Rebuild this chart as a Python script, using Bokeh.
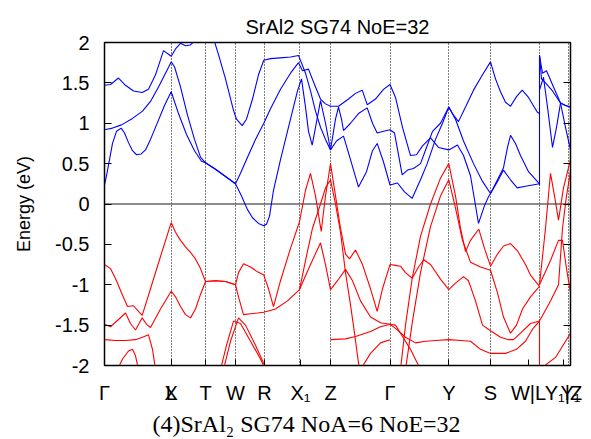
from bokeh.plotting import figure
from bokeh.models import Range1d, FixedTicker, LinearAxis, Span, NumeralTickFormatter, Title
from bokeh.embed import file_html
from bokeh.resources import INLINE

# ---- high-symmetry path (k in arbitrary path-length units) ----
grid_k = [170.7, 205, 235, 264, 299, 330, 389.5, 448.3, 490, 539, 568]
label_k = [104, 170.7, 170.71, 205, 235, 264, 300, 330, 389.5, 448.3, 490, 528, 563, 570]
label_text = ["Γ", "X", "L", "T", "W", "R", "X₁", "Z", "Γ", "Y", "S", "W|L", "Y₁|Z", "Y₁"]
energy_ticks = [-2, -1.5, -1, -0.5, 0, 0.5, 1, 1.5, 2]

# ---- conduction bands (blue) ----
cb1_k = [104, 106, 109, 112, 116, 120.7, 124, 128, 132, 136, 140.7, 145, 150, 156, 164, 170.7, 178, 186, 194, 201, 205,
         215, 225, 235, 241, 247, 252, 258, 263.3, 266, 269, 273, 280, 290, 297, 301, 305, 308, 311.7, 315, 320, 325, 330,
         336, 343, 350, 358, 366, 372, 376.7, 383, 389.5, 397, 404, 411.7, 420, 426.7, 435, 442, 448.3,
         455, 463, 473, 482, 490, 497, 503, 510, 516.7, 525, 539]
cb1_e = [0.235, 0.35, 0.55, 0.75, 0.9, 0.94, 0.88, 0.76, 0.66, 0.61, 0.62, 0.67, 0.8, 0.98, 1.22, 1.39, 1.12, 0.86, 0.66, 0.53, 0.51,
         0.43, 0.34, 0.25, 0.1, -0.07, -0.17, -0.24, -0.27, -0.25, -0.15, 0.17, 0.55, 1.05, 1.4, 1.55, 1.2, 0.9, 0.73, 0.95, 1.28, 1.0, 0.67,
         0.78, 0.84, 0.55, 0.21, 0.4, 0.66, 0.75, 0.52, 0.235, 0.26, 0.15, 0.07, 0.3, 0.5, 0.8, 1.0, 1.2,
         1.05, 0.78, 0.5, 0.28, 0.13, 0.28, 0.42, 0.3, 0.2, 0.22, 0.25]

cb2_k = [104, 112, 121, 132, 142, 150, 158, 165, 170.7, 174, 180, 187, 194, 200, 205, 215, 225, 235,
         240, 247, 255, 263.3, 270, 280, 290, 298, 302, 308, 314, 320, 325, 330,
         338, 348, 355, 361.7, 366.7, 375, 383, 389.5, 395, 402, 410, 416, 422, 430, 438, 448.3,
         457, 463, 470, 478, 484, 488, 490, 497, 503, 507, 510, 515, 520, 528, 539]
cb2_e = [0.92, 0.94, 0.98, 1.06, 1.15, 1.27, 1.45, 1.62, 1.76, 1.7, 1.45, 1.1, 0.8, 0.58, 0.51, 0.43, 0.34, 0.25,
         0.38, 0.58, 0.8, 1.0, 1.18, 1.42, 1.62, 1.75, 1.65, 1.67, 1.48, 1.3, 1.24, 1.21,
         1.21, 1.3, 1.37, 1.41, 1.23, 1.3, 1.42, 1.48, 1.32, 0.95, 0.6, 0.61, 0.72, 0.82, 0.7, 0.67,
         0.73, 0.6, 0.35, -0.24, -0.02, 0.09, 0.13, 0.3, 0.45, 0.7, 0.85, 0.75, 0.6, 0.4, 0.25]

cb3_k = [104, 110, 118, 125, 133, 141.7, 148, 155, 163, 170.7, 175, 180, 185, 190, 196, 205, 213, 218, 225,
         233, 236, 241.7, 246, 252, 258, 263.3, 270, 280, 290, 298, 305, 310, 315, 320, 325, 330,
         335, 338, 341, 343, 350, 358, 366.7, 372, 376.7, 383, 389.5, 394, 401.7, 407, 413, 420, 426, 432,
         440, 448.3, 453, 458, 465, 473, 482, 490, 495, 500, 505, 510, 516, 521.7, 528, 536.7, 539]
cb3_e = [1.47, 1.48, 1.56, 1.47, 1.4, 1.38, 1.42, 1.6, 1.9, 1.83, 1.92, 1.99, 1.96, 1.97, 2.05, 2.15, 2.05, 1.85, 1.55,
         1.16, 1.05, 0.97, 1.05, 1.3, 1.6, 1.78, 1.8, 1.81, 1.82, 1.84, 1.62, 1.4, 1.15, 0.95, 0.8, 0.67,
         1.05, 1.2, 1.05, 0.91, 1.0, 1.12, 1.19, 1.0, 0.88, 0.9, 0.92, 0.88, 0.36, 0.42, 0.44, 0.5, 0.7, 0.9,
         1.0, 1.2, 1.1, 1.02, 1.2, 1.41, 1.6, 1.76, 1.55, 1.39, 1.26, 1.21, 1.33, 1.41, 1.32, 1.14, 1.12]

cb4_k = [539, 539]
cb4_e = [0.23, 1.84]
cb5_k = [539, 542, 546, 553, 560, 565, 570]
cb5_e = [1.84, 1.62, 1.65, 1.45, 1.25, 1.22, 1.2]
cb6_k = [539, 541, 545, 552, 560, 565, 570]
cb6_e = [1.84, 1.55, 1.5, 1.4, 1.25, 0.95, 0.67]
cb7_k = [539, 543, 547, 552, 556, 560, 565, 570]
cb7_e = [1.41, 1.57, 1.2, 0.7, 0.95, 1.25, 1.22, 1.2]

# ---- valence bands (red) ----
vb1_k = [104, 110, 116, 122, 127, 133, 138, 141.7, 150, 160, 170.7, 175, 180, 185, 190, 195, 200, 205, 215, 225, 235,
         238, 243, 250, 257, 263.3, 268, 273, 280, 290, 299, 305, 310, 315, 320.7, 325, 330,
         335, 340, 345, 349, 355, 362, 370, 376.7, 382, 389.5, 395, 400, 405, 411.7, 418, 423.3, 430, 440, 448.3,
         455, 463, 468, 475, 482, 490, 500, 508, 513, 520, 530, 539]
vb1_e = [-0.75, -0.8, -0.95, -1.13, -1.27, -1.26, -1.33, -1.38, -1.05, -0.65, -0.23, -0.35, -0.45, -0.53, -0.6, -0.68, -0.8, -0.96, -0.95, -0.96, -1.0,
         -0.85, -0.74, -0.78, -0.84, -0.88, -1.05, -1.27, -0.95, -0.55, -0.22, 0.17, 0.38, 0.1, -0.34, 0.1, 0.5,
         0.1, -0.3, -0.62, -0.68, -0.57, -0.75, -1.05, -1.33, -1.05, -0.75, -0.76, -0.77, -0.85, -0.92, -0.78, -0.69, -0.75, -0.93, -1.06,
         -0.98, -0.9, -0.95, -1.2, -1.5, -1.57, -1.65, -1.68, -1.68, -1.6, -1.48, -1.45]

vb2_k = [104, 110, 118, 125, 130, 135, 141.7, 146, 150, 160, 170.7, 175, 180, 185, 190, 195, 200, 205, 215, 225, 235,
         238, 243, 250, 257, 263.3, 275, 287, 299, 310, 320, 325, 330,
         337, 345, 352, 360, 370, 380, 389.5, 396, 405, 415, 425, 435, 448.3, 460, 470, 480, 490,
         505, 516, 525, 532, 539]
vb2_e = [-1.49, -1.52, -1.43, -1.35, -1.48, -1.56, -1.41, -1.49, -1.53, -1.3, -1.08, -1.15, -1.27, -1.37, -1.41, -1.3, -1.12, -0.96, -0.95, -0.96, -1.0,
         -1.15, -1.37, -1.36, -1.35, -1.34, -1.3, -1.2, -1.06, -0.75, -0.48, -0.75, -1.06,
         -0.95, -0.81, -0.95, -1.2, -1.4, -1.47, -1.49, -1.55, -1.65, -1.72, -1.7, -1.69, -1.68, -1.69, -1.7, -1.8, -1.85,
         -1.85, -1.8, -1.7, -1.55, -1.45]

vb3_k = [104, 115, 125, 135, 142, 148, 152, 155]
vb3_e = [-1.68, -1.69, -1.69, -1.68, -1.65, -1.62, -1.8, -2.05]
vb4_k = [117, 122, 128, 132, 135, 138]
vb4_e = [-2.05, -1.92, -1.82, -1.8, -1.88, -2.05]
vb5_k = [220, 226, 233, 240, 250, 260, 265]
vb5_e = [-2.05, -1.75, -1.45, -1.48, -1.7, -1.92, -2.05]
vb6_k = [223, 230, 238, 245, 255, 263, 266]
vb6_e = [-2.05, -1.7, -1.41, -1.5, -1.75, -1.97, -2.05]
vb7_k = [299, 305, 312, 320, 325, 330, 335, 340, 345, 350, 354, 358, 360]
vb7_e = [-1.06, -0.7, -0.3, 0.0, 0.2, 0.3, 0.0, -0.35, -0.85, -1.25, -1.6, -1.97, -2.05]
vb8_k = [330, 345, 355, 370, 380, 389.5, 395, 400, 410, 420]
vb8_e = [-1.68, -1.67, -1.64, -1.58, -1.52, -1.49, -1.5, -1.6, -1.8, -2.05]
vb9_k = [360, 370, 380, 389.5]
vb9_e = [-2.05, -1.85, -1.72, -1.68]
vb10_k = [400, 405, 411.7, 420, 430, 440, 448.3, 455, 460, 465, 470, 478.3, 484, 490,
          497, 503, 510, 517, 525, 530, 539]
vb10_e = [-2.05, -1.5, -0.92, -0.4, 0.0, 0.32, 0.5, 0.1, -0.3, -0.59, -0.45, -0.31, -0.55, -0.77,
          -0.62, -0.52, -0.49, -0.58, -0.75, -0.88, -1.02]
vb11_k = [405, 412, 420, 430, 440, 448.3, 455, 462, 470, 480, 490, 497, 503, 510, 516, 522, 530, 539]
vb11_e = [-2.05, -1.45, -0.85, -0.28, 0.1, 0.3, -0.05, -0.45, -0.72, -0.78, -0.82, -1.1, -1.4, -1.6, -1.5, -1.3, -1.15, -1.02]
vb12_k = [539, 545, 550, 554, 558, 563, 570]
vb12_e = [-1.0, -0.3, 0.38, 0.1, -0.2, 0.2, 0.55]
vb13_k = [539, 550, 558, 562, 566, 570]
vb13_e = [-1.0, -0.7, -0.45, -0.45, -0.8, -1.1]
vb14_k = [539, 550, 558, 562, 566, 570]
vb14_e = [-1.45, -1.2, -1.0, -0.3, 0.1, 0.4]
vb15_k = [539, 555, 570]
vb15_e = [-2.05, -1.9, -1.6]
vb16_k = [539, 539]
vb16_e = [-1.45, -2.05]

blue_bands = [(cb1_k, cb1_e), (cb2_k, cb2_e), (cb3_k, cb3_e), (cb4_k, cb4_e),
              (cb5_k, cb5_e), (cb6_k, cb6_e), (cb7_k, cb7_e)]
red_bands = [(vb1_k, vb1_e), (vb2_k, vb2_e), (vb3_k, vb3_e), (vb4_k, vb4_e), (vb5_k, vb5_e),
             (vb6_k, vb6_e), (vb7_k, vb7_e), (vb8_k, vb8_e), (vb9_k, vb9_e), (vb10_k, vb10_e),
             (vb11_k, vb11_e), (vb12_k, vb12_e), (vb13_k, vb13_e), (vb14_k, vb14_e),
             (vb15_k, vb15_e), (vb16_k, vb16_e)]

SANS = "Liberation Sans"
SERIF = "Liberation Serif"

p = figure(width=586, height=439, x_range=Range1d(104, 570), y_range=Range1d(-2, 2),
           output_backend="svg", toolbar_location=None,
           min_border_left=104, min_border_right=16, min_border_top=42, min_border_bottom=73)
p.background_fill_color = "white"
p.border_fill_color = "white"
p.outline_line_color = "black"
p.outline_line_width = 1.5

p.title.text = "SrAl2 SG74 NoE=32"
p.title.align = "center"
p.title.text_font = SANS
p.title.text_font_size = "20px"
p.title.text_font_style = "normal"
p.title.text_color = "black"
p.title.standoff = 9

# x axis with path labels
xa = p.xaxis[0]
xa.ticker = FixedTicker(ticks=label_k)
xa.major_label_overrides = {k: t for k, t in zip(label_k, label_text)}
xa.major_label_text_font = SANS
xa.major_label_text_font_size = "20px"
xa.major_label_text_color = "black"
xa.major_label_standoff = 16
xa.major_tick_in = 6
xa.major_tick_out = 0
xa.minor_tick_line_color = None
xa.axis_line_color = "black"
xa.major_tick_line_color = "black"

ya = p.yaxis[0]
ya.ticker = FixedTicker(ticks=energy_ticks)
ya.formatter = NumeralTickFormatter(format="0.[0]")
ya.major_label_text_font = SANS
ya.major_label_text_font_size = "20px"
ya.major_label_text_color = "black"
ya.major_tick_in = 7
ya.major_tick_out = 0
ya.minor_tick_line_color = None
ya.major_label_standoff = 15
ya.axis_label = "Energy (eV)"
ya.axis_label_text_font = SANS
ya.axis_label_text_font_size = "18px"
ya.axis_label_text_font_style = "normal"
ya.axis_label_text_color = "black"
ya.axis_label_standoff = 18

ra = LinearAxis(ticker=FixedTicker(ticks=energy_ticks), major_label_text_font_size="0px",
                major_tick_in=7, major_tick_out=0, minor_tick_line_color=None,
                major_label_standoff=0, axis_line_color="black")
p.add_layout(ra, "right")

caption = Title(text="(4)SrAl₂ SG74 NoA=6 NoE=32", align="left", offset=48,
                text_font=SERIF, text_font_size="24px", text_font_style="normal",
                text_color="black", standoff=5)
p.add_layout(caption, "below")

p.xgrid.ticker = FixedTicker(ticks=grid_k)
p.xgrid.grid_line_color = "black"
p.xgrid.grid_line_dash = "1 2"
p.xgrid.grid_line_width = 1
p.ygrid.visible = False

p.add_layout(Span(location=0, dimension="width", line_color="#666666", line_width=1.6, level="underlay"))

for k, e in red_bands:
    p.line(k, e, line_color="#ff0000", line_width=1.1)
for k, e in blue_bands:
    p.line(k, e, line_color="#0000ff", line_width=1.1)

open("out.html", "w").write(file_html(p, INLINE))
